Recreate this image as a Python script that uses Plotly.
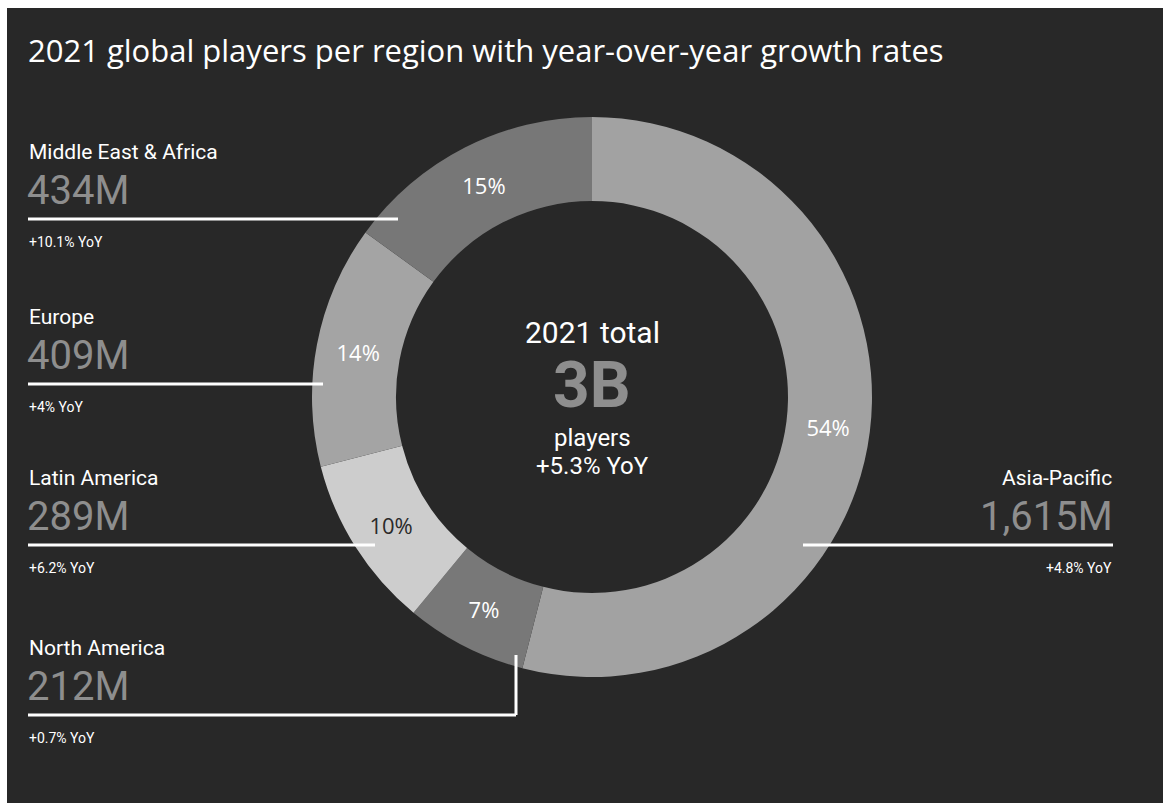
import plotly.graph_objects as go

# Data
regions = ["Asia-Pacific", "North America", "Latin America", "Europe", "Middle East & Africa"]
shares_pct = [54, 7, 10, 14, 15]
players_m = [1615, 212, 289, 409, 434]
yoy_labels = ["+4.8% YoY", "+0.7% YoY", "+6.2% YoY", "+4% YoY", "+10.1% YoY"]
total_label = "3B"
total_yoy = "+5.3% YoY"

W, H = 1163, 803
TITLE_FONT = "Open Sans"
FONT = "Roboto"
BG = "#282828"
VALUE_GREY = "#8e8e8e"
slice_colors = ["#a2a2a2", "#787878", "#cdcdcd", "#a4a4a4", "#777777"]
pct_text_colors = ["#ffffff", "#ffffff", "#2a2a2a", "#ffffff", "#ffffff"]


def px(x):
    return x / W


def py(y):
    return 1 - y / H


cx, cy, r = 592, 397, 280

fig = go.Figure(go.Pie(
    labels=regions,
    values=shares_pct,
    hole=0.70,
    sort=False,
    direction="clockwise",
    rotation=0,
    marker=dict(colors=slice_colors, line=dict(width=0)),
    texttemplate="%{value}%",
    textposition="inside",
    insidetextorientation="horizontal",
    textfont=dict(family=TITLE_FONT, size=22, color=pct_text_colors),
    showlegend=False,
    hoverinfo="label+value",
    domain=dict(x=[px(cx - r), px(cx + r)], y=[py(cy + r), py(cy - r)]),
))

shapes = [
    # dark panel
    dict(type="rect", xref="paper", yref="paper", x0=px(7), x1=1, y0=0, y1=py(8),
         fillcolor=BG, line=dict(width=0), layer="below"),
]
annotations = []

# Callout blocks: (region index, text x, name y, align, line from, line to, elbow)
blocks = [
    (4, 27, 152, "left", 28, 398, None),
    (3, 27, 317, "left", 28, 323, None),
    (2, 27, 478, "left", 28, 375, None),
    (1, 27, 648, "left", 28, 516, 655),
    (0, 1114, 478, "right", 803, 1113, None),
]

for i, tx, ny, align, lx0, lx1, elbow in blocks:
    anchor = "left" if align == "left" else "right"
    annotations.append(dict(x=px(tx), y=py(ny), xref="paper", yref="paper",
                            text=regions[i], showarrow=False, xanchor=anchor, yanchor="middle",
                            font=dict(family=FONT, size=21, color="#ffffff")))
    annotations.append(dict(x=px(tx - 2 if align == "left" else tx + 1), y=py(ny + 38), xref="paper", yref="paper",
                            text=f"{players_m[i]:,}M", showarrow=False, xanchor=anchor, yanchor="middle",
                            font=dict(family=FONT, size=40, color=VALUE_GREY)))
    annotations.append(dict(x=px(tx), y=py(ny + 90), xref="paper", yref="paper",
                            text=yoy_labels[i], showarrow=False, xanchor=anchor, yanchor="middle",
                            font=dict(family=FONT, size=14, color="#ffffff")))
    ly = ny + 67
    shapes.append(dict(type="line", xref="paper", yref="paper",
                       x0=px(lx0), x1=px(lx1), y0=py(ly), y1=py(ly),
                       line=dict(color="#ffffff", width=3)))
    if elbow is not None:
        shapes.append(dict(type="line", xref="paper", yref="paper",
                           x0=px(lx1), x1=px(lx1), y0=py(ly), y1=py(elbow),
                           line=dict(color="#ffffff", width=3)))

# Centre of the donut
center = [
    ("2021 total", 332, 30, "#ffffff", False),
    (total_label, 386, 64, VALUE_GREY, True),
    ("players", 438, 24, "#ffffff", False),
    (total_yoy, 466, 24, "#ffffff", False),
]
for text, y, size, color, bold in center:
    annotations.append(dict(x=px(592), y=py(y), xref="paper", yref="paper",
                            text=f"<b>{text}</b>" if bold else text,
                            showarrow=False, xanchor="center", yanchor="middle",
                            font=dict(family=FONT, size=size, color=color)))

# Title
annotations.append(dict(x=px(26), y=py(50), xref="paper", yref="paper",
                        text="2021 global players per region with year-over-year growth rates",
                        showarrow=False, xanchor="left", yanchor="middle",
                        font=dict(family=TITLE_FONT, size=31, color="#ffffff")))

fig.update_layout(
    width=W, height=H,
    margin=dict(l=0, r=0, t=0, b=0),
    paper_bgcolor="#ffffff",
    plot_bgcolor=BG,
    shapes=shapes,
    annotations=annotations,
)

fig.write_html("out.html")
